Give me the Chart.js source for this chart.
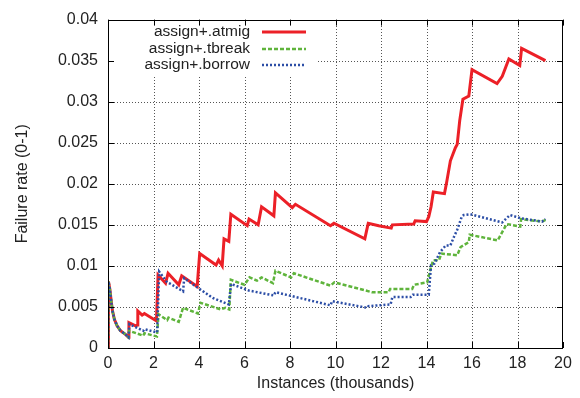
<!DOCTYPE html>
<html><head><meta charset="utf-8">
<script src="https://cdn.jsdelivr.net/npm/chart.js@4/dist/chart.umd.min.js"></script>
<style>html,body{margin:0;padding:0;background:#fff}#wrap{width:580px;height:398px;position:relative}</style>
</head><body><div id="wrap"><canvas id="c" width="580" height="398"></canvas></div>
<script>
// ---- data (x in thousands of instances, y = failure rate) ----
const seriesLabels = ['assign+.atmig', 'assign+.tbreak', 'assign+.borrow'];
const xTitle = 'Instances (thousands)';
const yTitle = 'Failure rate (0-1)';
const xTicks = [0, 2, 4, 6, 8, 10, 12, 14, 16, 18, 20];
const xTickLabels = ['0', '2', '4', '6', '8', '10', '12', '14', '16', '18', '20'];
const yTicks = [0, 0.005, 0.01, 0.015, 0.02, 0.025, 0.03, 0.035, 0.04];
const yTickLabels = ['0', '0.005', '0.01', '0.015', '0.02', '0.025', '0.03', '0.035', '0.04'];

// shared start-up segment
const startX = [0, 0.02, 0.08, 0.15, 0.2, 0.28, 0.4, 0.55, 0.75, 0.9];
const startY = [0, 0.0081, 0.0072, 0.0055, 0.0045, 0.0035, 0.0027, 0.0021, 0.0017, 0.0013];

const atmigX = [0.92, 1.21, 1.29, 1.31, 1.5, 1.6, 2.13, 2.2, 2.53, 2.64, 3.11, 3.24, 3.92, 4.03, 4.75, 4.86, 5.02, 5.1, 5.31, 5.4, 6.12, 6.2, 6.6, 6.75, 7.29, 7.36, 8.1, 8.24, 9.78, 9.93, 11.29, 11.36, 11.44, 11.9, 12.45, 12.5, 13.44, 13.5, 14.0, 14.1, 14.2, 14.3, 14.79, 14.88, 15.05, 15.27, 15.35, 15.46, 15.6, 15.86, 16.0, 17.1, 17.33, 17.62, 18.1, 18.18, 19.23];
const atmigY = [0.0031, 0.0027, 0.0028, 0.0045, 0.0040, 0.0042, 0.0033, 0.0089, 0.0079, 0.0091, 0.0077, 0.0088, 0.0075, 0.0115, 0.0101, 0.0107, 0.0100, 0.0133, 0.0130, 0.0163, 0.0149, 0.0157, 0.0150, 0.0172, 0.0161, 0.0189, 0.0171, 0.0175, 0.0149, 0.0152, 0.0133, 0.0142, 0.0152, 0.0149, 0.0146, 0.0150, 0.0151, 0.0155, 0.0154, 0.0160, 0.0172, 0.0190, 0.0188, 0.0201, 0.0228, 0.0244, 0.0248, 0.0277, 0.0303, 0.0307, 0.0339, 0.0322, 0.0331, 0.0352, 0.0344, 0.0365, 0.0350];

const tbreakX = [0.93, 1.55, 1.6, 2.15, 2.22, 2.6, 2.66, 3.11, 3.3, 3.95, 4.07, 4.95, 5.16, 5.33, 5.4, 6.0, 6.22, 6.55, 6.75, 7.25, 7.36, 8.05, 8.17, 9.78, 9.95, 11.6, 12.34, 12.4, 13.37, 13.45, 14.03, 14.2, 14.3, 14.55, 14.65, 15.35, 15.5, 15.86, 15.9, 17.13, 17.52, 18.12, 18.16, 19.08, 19.23];
const tbreakY = [0.0021, 0.0015, 0.0018, 0.0014, 0.0041, 0.0034, 0.0037, 0.0032, 0.0049, 0.0042, 0.0055, 0.0047, 0.0049, 0.0047, 0.0083, 0.0077, 0.0086, 0.0082, 0.0086, 0.0079, 0.0094, 0.0086, 0.0091, 0.0076, 0.0080, 0.0068, 0.0068, 0.0072, 0.0072, 0.0077, 0.0080, 0.0099, 0.0107, 0.0107, 0.0115, 0.0113, 0.0123, 0.0129, 0.0138, 0.0131, 0.0151, 0.0148, 0.0157, 0.0154, 0.0156];

const borrowX = [0.94, 1.55, 1.6, 2.16, 2.25, 2.6, 2.75, 3.3, 3.35, 3.92, 4.6, 5.31, 5.41, 6.19, 7.29, 7.36, 9.78, 9.85, 11.39, 11.45, 12.42, 12.5, 13.3, 13.4, 14.1, 14.2, 14.35, 14.6, 14.85, 15.05, 15.2, 15.35, 15.55, 15.64, 15.93, 17.33, 17.67, 18.14, 19.08, 19.23];
const borrowY = [0.0029, 0.0021, 0.0023, 0.0019, 0.0093, 0.0080, 0.0078, 0.0069, 0.0085, 0.0074, 0.0061, 0.0053, 0.0078, 0.0070, 0.0064, 0.0068, 0.0052, 0.0057, 0.0049, 0.0051, 0.0053, 0.0062, 0.0062, 0.0065, 0.0065, 0.0101, 0.0103, 0.0117, 0.0125, 0.0125, 0.0135, 0.0144, 0.0160, 0.0162, 0.0163, 0.0153, 0.0162, 0.0158, 0.0154, 0.0157];

// ---- build ----
function pts(xs, ys) {
  const ax = startX.concat(xs), ay = startY.concat(ys);
  return ax.map((x, i) => ({ x: x, y: ay[i] }));
}
const colors = ['#ec2027', '#5fb43c', '#2c4ea6'];
const dashes = [[], [4, 2], [2, 2]];
const widths = [3, 2.5, 2.5];
const FONT = '"Liberation Sans", Arial, Helvetica, sans-serif';

const decor = {
  id: 'decor',
  beforeDatasetsDraw(chart) {
    const { ctx, chartArea: a, scales: { x, y } } = chart;
    ctx.save();
    ctx.strokeStyle = '#555';
    ctx.lineWidth = 1;
    ctx.setLineDash([1, 2]);
    xTicks.forEach(v => {
      if (v <= xTicks[0] || v >= xTicks[xTicks.length - 1]) return;
      const px = Math.round(x.getPixelForValue(v)) + 0.5;
      ctx.beginPath(); ctx.moveTo(px, a.bottom); ctx.lineTo(px, a.top); ctx.stroke();
    });
    yTicks.forEach(v => {
      if (v <= yTicks[0] || v >= yTicks[yTicks.length - 1]) return;
      const py = Math.round(y.getPixelForValue(v)) + 0.5;
      ctx.beginPath(); ctx.moveTo(a.left, py); ctx.lineTo(a.right, py); ctx.stroke();
    });
    ctx.setLineDash([]);
    // legend background (key box hides grid)
    ctx.fillStyle = '#fff';
    ctx.fillRect(a.left + 1, a.top + 1, 208, 55);
    ctx.restore();
  },
  afterDatasetsDraw(chart) {
    const { ctx, chartArea: a, scales: { x, y } } = chart;
    ctx.save();
    ctx.strokeStyle = '#000';
    ctx.lineWidth = 1;
    ctx.strokeRect(Math.round(a.left) + 0.5, Math.round(a.top) + 0.5, Math.round(a.right - a.left) - 1, Math.round(a.bottom - a.top));
    const tl = 6;
    xTicks.forEach(v => {
      const px = Math.round(x.getPixelForValue(v)) + 0.5;
      ctx.beginPath();
      ctx.moveTo(px, a.bottom); ctx.lineTo(px, a.bottom - tl);
      ctx.moveTo(px, a.top); ctx.lineTo(px, a.top + tl);
      ctx.stroke();
    });
    yTicks.forEach(v => {
      const py = Math.round(y.getPixelForValue(v)) + 0.5;
      ctx.beginPath();
      ctx.moveTo(a.left, py); ctx.lineTo(a.left + tl, py);
      ctx.moveTo(a.right, py); ctx.lineTo(a.right - tl, py);
      ctx.stroke();
    });
    // key
    ctx.font = '15.5px ' + FONT;
    ctx.textAlign = 'right';
    ctx.textBaseline = 'middle';
    const rows = [a.top + 12, a.top + 29, a.top + 45];
    chart.data.datasets.forEach((ds, i) => {
      ctx.fillStyle = '#222';
      ctx.fillText(ds.label, a.left + 142, rows[i]);
      ctx.strokeStyle = ds.borderColor;
      ctx.lineWidth = ds.borderWidth;
      ctx.setLineDash(ds.borderDash || []);
      ctx.beginPath();
      ctx.moveTo(a.left + 154, rows[i] + 0.5);
      ctx.lineTo(a.left + 198, rows[i] + 0.5);
      ctx.stroke();
    });
    ctx.restore();
  }
};

const datasets = [
  { label: seriesLabels[0], data: pts(atmigX, atmigY), order: 2 },
  { label: seriesLabels[1], data: pts(tbreakX, tbreakY), order: 1 },
  { label: seriesLabels[2], data: pts(borrowX, borrowY), order: 0 }
].map((d, i) => Object.assign(d, {
  borderColor: colors[i], backgroundColor: colors[i], borderWidth: widths[i],
  borderDash: dashes[i], pointRadius: 0, tension: 0, fill: false, borderJoinStyle: 'miter'
}));

new Chart(document.getElementById('c'), {
  type: 'line',
  data: { datasets: datasets },
  plugins: [decor],
  options: {
    responsive: false, animation: false, devicePixelRatio: 1,
    layout: { padding: { left: 0, right: 17, top: 12, bottom: 0 } },
    plugins: { legend: { display: false }, tooltip: { enabled: false } },
    scales: {
      x: {
        type: 'linear', min: 0, max: 20,
        afterBuildTicks: s => { s.ticks = xTicks.map(v => ({ value: v })); },
        afterFit: s => { s.height = 50; },
        grid: { display: false, drawTicks: false }, border: { display: false },
        ticks: { autoSkip: false, maxRotation: 0, padding: 6, color: '#222', font: { family: FONT, size: 16 },
                 callback: (v, i) => xTickLabels[i] },
        title: { display: true, text: xTitle, color: '#222', font: { family: FONT, size: 16 }, padding: { top: 0, bottom: 5 } }
      },
      y: {
        type: 'linear', min: 0, max: 0.04,
        afterBuildTicks: s => { s.ticks = yTicks.map(v => ({ value: v })); },
        afterFit: s => { s.width = 108; },
        grid: { display: false, drawTicks: false }, border: { display: false },
        ticks: { autoSkip: false, padding: 10, color: '#222', font: { family: FONT, size: 16 },
                 callback: (v, i) => yTickLabels[i] },
        title: { display: true, text: yTitle, color: '#222', font: { family: FONT, size: 16 }, padding: { top: 13, bottom: 0 } }
      }
    }
  }
});
</script></body></html>
